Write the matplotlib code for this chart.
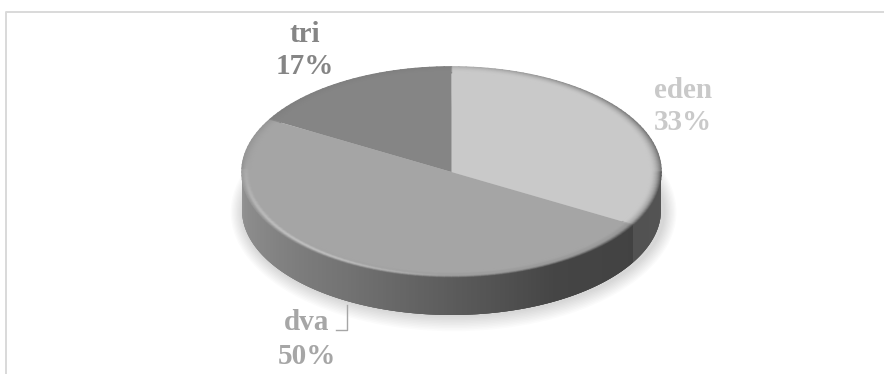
import numpy as np
import matplotlib
matplotlib.use("Agg")
import matplotlib.pyplot as plt
from matplotlib.collections import LineCollection, PolyCollection
from matplotlib.colors import to_rgb
from matplotlib.patches import Ellipse

labels = ['eden', 'dva', 'tri']
values = [2, 3, 1]
colors = ['#c9c9c9', '#a5a5a5', '#858585']
label_colors = ['#c9c9c9', '#a6a6a6', '#858585']

W, H = 884, 374
cx, cy, rx, ry = 451.5, 172.0, 209.5, 105.0
depth = 38 / ry

# side wall shading, clockwise degrees from the top of the pie
side_ang = [90, 119.9, 120, 150, 180, 210, 240, 270]
side_grey = [0.33, 0.32, 0.26, 0.27, 0.36, 0.45, 0.52, 0.58]


def px(x, y):
    return x / W, 1 - y / H


def xy(theta, r=1.0, drop=0.0):
    t = np.radians(theta)
    return r * np.sin(t), r * np.cos(t) - drop


fig = plt.figure(figsize=(8.84, 3.74), dpi=100)
ax = fig.add_axes([0, 0, 1, 1])

# frame
fig.add_artist(plt.Line2D([5.5 / W, 5.5 / W, 1], [0, 1 - 11.5 / H, 1 - 11.5 / H],
                          color='#d9d9d9', lw=1.4))

# soft shadow
for i in range(10):
    ax.add_patch(Ellipse((0.01, -depth - 0.02), 2 + 0.012 * i + 0.02, 2 + 0.03 * i,
                         fc='black', ec='none', alpha=0.014, zorder=1))

# side wall, each strip overlaps the next so no seams show
thetas = np.arange(90, 270, 0.5)
polys, greys = [], []
for a in thetas:
    b = min(a + 1.5, 270)
    x0, y0 = xy(a)
    x1, y1 = xy(b)
    polys.append([(x0, y0), (x1, y1), (x1, y1 - depth), (x0, y0 - depth)])
    greys.append([np.interp(a + 0.25, side_ang, side_grey)] * 3)
ax.add_collection(PolyCollection(polys, facecolors=greys, edgecolors='none', zorder=2))

# top of the pie
wedges, _ = ax.pie(values, colors=colors, startangle=90, counterclock=False,
                   wedgeprops={'lw': 0, 'zorder': 3})

# slice limits, clockwise from the top
edges = np.cumsum([0] + values) / sum(values) * 360

# bevel round the rim
segs, seg_cols = [], []
rings = np.linspace(1.0, 0.945, 14)
for r in rings:
    t = (1 - r) / 0.055
    for a in np.arange(0, 360, 2.0):
        i = np.searchsorted(edges, a + 1) - 1
        base = np.array(to_rgb(colors[i]))
        front = np.clip(-np.cos(np.radians(a)) + 0.15, 0, 1)
        left = np.clip(-np.sin(np.radians(a)), 0, 1)
        right = np.clip(np.sin(np.radians(a)), 0, 1)
        edge_grey = np.interp(a, side_ang, side_grey) if 90 <= a <= 270 else 0.45
        # dark at the outer edge, light band in the middle on the left
        dark = (1 - t) ** 2 * (0.3 + 0.7 * max(front, right))
        glow = np.exp(-((t - 0.38) / 0.22) ** 2) * 0.8 * front * (0.3 + 0.7 * left)
        c = base * (1 - dark) + edge_grey * dark
        c = c * (1 - glow) + 0.88 * glow
        segs.append([xy(a, r), xy(a + 2, r)])
        seg_cols.append(c)
ax.add_collection(LineCollection(segs, colors=seg_cols, lw=1.2, zorder=4, capstyle='round'))

ax.set_aspect('auto')
ax.set_xlim((0 - cx) / rx, (W - cx) / rx)
ax.set_ylim((cy - H) / ry, cy / ry)
ax.axis('off')

# data labels
label_pos = [(683, 91, 123), (307, 323, 356), (305, 35, 67)]
total = sum(values)
for name, v, col, (lx, y1, y2) in zip(labels, values, label_colors, label_pos):
    fx, fy = px(lx, y1)
    fig.text(fx, fy, name, color=col, family='Liberation Serif', weight='bold',
             fontsize=21, ha='center', va='center')
    fx, fy = px(lx, y2)
    fig.text(fx, fy, f'{round(100 * v / total)}%', color=col, family='Liberation Serif',
             weight='bold', fontsize=21, ha='center', va='center')

# leader line for dva
p0, p1, p2 = px(347, 305), px(347, 329.5), px(336, 329.5)
fig.add_artist(plt.Line2D([p0[0], p1[0], p2[0]], [p0[1], p1[1], p2[1]], color='#a6a6a6', lw=1))

fig.savefig('out.png', dpi=100)
